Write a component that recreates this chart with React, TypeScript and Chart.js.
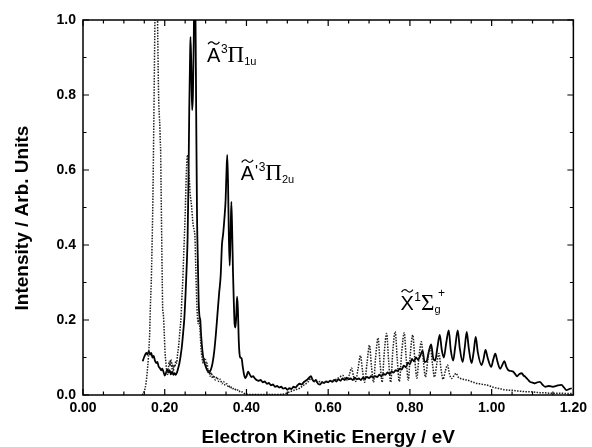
import React, { useEffect, useRef } from "react";
import { Chart, registerables } from "chart.js";

Chart.register(...registerables);

// ---- Solid spectrum (eV, intensity) ----
const solidX = [
  0.146, 0.150, 0.155, 0.158, 0.161, 0.164, 0.167, 0.170, 0.173, 0.176, 0.179, 0.182, 0.185, 0.188, 0.191, 0.194, 0.197,
  0.200, 0.203, 0.206, 0.209, 0.212, 0.215, 0.218, 0.221, 0.224, 0.227, 0.230, 0.233, 0.236, 0.239, 0.242, 0.245, 0.248,
  0.251, 0.254, 0.256, 0.258, 0.260, 0.262, 0.263, 0.265, 0.267, 0.269, 0.271, 0.273, 0.275, 0.277, 0.279, 0.281, 0.283,
  0.285, 0.287, 0.289, 0.292, 0.295, 0.299, 0.303, 0.306, 0.309, 0.313, 0.317, 0.321, 0.325, 0.329, 0.333, 0.337, 0.340,
  0.343, 0.346, 0.349, 0.351, 0.353, 0.355, 0.357, 0.359, 0.361, 0.363, 0.365, 0.367, 0.369, 0.371, 0.373, 0.375, 0.377,
  0.379, 0.381, 0.383, 0.385, 0.388, 0.391, 0.394, 0.397, 0.400, 0.404, 0.408, 0.412, 0.416, 0.420, 0.425, 0.430, 0.435,
  0.440, 0.445, 0.450, 0.455, 0.460, 0.465, 0.470, 0.475, 0.480, 0.485, 0.490, 0.495, 0.500, 0.505, 0.510, 0.515, 0.520,
  0.525, 0.530, 0.535, 0.540, 0.545, 0.550, 0.555, 0.558, 0.562, 0.566, 0.570, 0.575, 0.580, 0.585, 0.590, 0.595, 0.600,
  0.605, 0.610, 0.615, 0.620, 0.625, 0.630, 0.635, 0.640, 0.645, 0.650, 0.655, 0.660, 0.665, 0.670, 0.675, 0.680, 0.685,
  0.690, 0.695, 0.700, 0.705, 0.710, 0.715, 0.720, 0.725, 0.730, 0.735, 0.740, 0.745, 0.750, 0.755, 0.760, 0.765, 0.770,
  0.775, 0.780, 0.785, 0.790, 0.795, 0.800, 0.805, 0.810, 0.815, 0.820, 0.825, 0.831, 0.836, 0.841, 0.846, 0.852, 0.857,
  0.862, 0.867, 0.873, 0.878, 0.883, 0.889, 0.895, 0.900, 0.906, 0.911, 0.917, 0.922, 0.929, 0.934, 0.939, 0.944, 0.951,
  0.956, 0.961, 0.966, 0.975, 0.980, 0.985, 0.990, 0.999, 1.004, 1.009, 1.014, 1.021, 1.026, 1.031, 1.036, 1.041, 1.047,
  1.053, 1.058, 1.062, 1.068, 1.074, 1.078, 1.082, 1.088, 1.094, 1.100, 1.106, 1.112, 1.118, 1.124, 1.131, 1.140, 1.150,
  1.160, 1.171, 1.177, 1.183, 1.190, 1.196,
];
const solidY = [
  0.090, 0.102, 0.112, 0.108, 0.116, 0.108, 0.112, 0.100, 0.104, 0.092, 0.085, 0.088, 0.076, 0.072, 0.066, 0.070, 0.062,
  0.052, 0.058, 0.068, 0.060, 0.066, 0.055, 0.062, 0.054, 0.058, 0.054, 0.060, 0.072, 0.085, 0.105, 0.130, 0.165, 0.205,
  0.270, 0.350, 0.420, 0.560, 0.760, 0.900, 0.955, 0.880, 0.760, 0.800, 0.940, 1.150, 1.050, 0.750, 0.480, 0.360, 0.250,
  0.210, 0.200, 0.160, 0.120, 0.095, 0.080, 0.068, 0.062, 0.060, 0.068, 0.085, 0.115, 0.160, 0.215, 0.270, 0.320, 0.400,
  0.430, 0.470, 0.520, 0.590, 0.640, 0.560, 0.420, 0.345, 0.420, 0.515, 0.440, 0.330, 0.250, 0.190, 0.180, 0.210, 0.262,
  0.230, 0.150, 0.110, 0.100, 0.098, 0.075, 0.055, 0.045, 0.050, 0.062, 0.055, 0.048, 0.050, 0.045, 0.040, 0.038, 0.040,
  0.034, 0.036, 0.030, 0.032, 0.026, 0.028, 0.022, 0.024, 0.020, 0.022, 0.017, 0.019, 0.014, 0.018, 0.016, 0.022, 0.020,
  0.026, 0.030, 0.028, 0.034, 0.038, 0.042, 0.048, 0.050, 0.040, 0.036, 0.040, 0.030, 0.028, 0.034, 0.032, 0.036, 0.034,
  0.038, 0.035, 0.040, 0.036, 0.042, 0.038, 0.044, 0.040, 0.046, 0.042, 0.044, 0.040, 0.046, 0.042, 0.044, 0.040, 0.046,
  0.044, 0.048, 0.045, 0.050, 0.047, 0.050, 0.048, 0.054, 0.050, 0.056, 0.054, 0.060, 0.056, 0.062, 0.060, 0.066, 0.064,
  0.070, 0.068, 0.078, 0.074, 0.086, 0.082, 0.096, 0.090, 0.100, 0.094, 0.104, 0.118, 0.088, 0.090, 0.115, 0.135, 0.098,
  0.092, 0.125, 0.160, 0.120, 0.100, 0.140, 0.172, 0.120, 0.092, 0.130, 0.172, 0.125, 0.088, 0.125, 0.168, 0.125, 0.085,
  0.115, 0.155, 0.115, 0.080, 0.095, 0.120, 0.100, 0.075, 0.095, 0.110, 0.090, 0.070, 0.080, 0.090, 0.075, 0.066, 0.064,
  0.062, 0.055, 0.050, 0.056, 0.058, 0.052, 0.049, 0.042, 0.035, 0.033, 0.031, 0.034, 0.035, 0.028, 0.022, 0.024, 0.022,
  0.025, 0.027, 0.020, 0.013, 0.016, 0.018,
];

// ---- Dotted spectrum (eV, intensity) ----
const dottedX = [
  0.145, 0.150, 0.154, 0.157, 0.160, 0.163, 0.165, 0.167, 0.169, 0.171, 0.173, 0.175, 0.177, 0.179, 0.181, 0.183, 0.185,
  0.187, 0.188, 0.189, 0.190, 0.191, 0.192, 0.193, 0.194, 0.195, 0.196, 0.197, 0.199, 0.201, 0.203, 0.205, 0.207, 0.209,
  0.211, 0.213, 0.215, 0.217, 0.219, 0.221, 0.223, 0.225, 0.227, 0.229, 0.231, 0.234, 0.237, 0.240, 0.242, 0.244, 0.246,
  0.248, 0.250, 0.252, 0.254, 0.256, 0.258, 0.260, 0.262, 0.264, 0.266, 0.268, 0.270, 0.272, 0.274, 0.276, 0.278, 0.280,
  0.282, 0.284, 0.286, 0.288, 0.290, 0.292, 0.294, 0.296, 0.298, 0.300, 0.302, 0.304, 0.306, 0.308, 0.311, 0.314, 0.317,
  0.320, 0.324, 0.328, 0.332, 0.336, 0.340, 0.344, 0.348, 0.352, 0.356, 0.360, 0.365, 0.370, 0.375, 0.380, 0.385, 0.390,
  0.395, 0.400, 0.450, 0.490, 0.500, 0.510, 0.520, 0.530, 0.540, 0.550, 0.558, 0.565, 0.572, 0.580, 0.590, 0.600, 0.610,
  0.620, 0.628, 0.636, 0.641, 0.647, 0.652, 0.657, 0.662, 0.667, 0.673, 0.679, 0.684, 0.689, 0.695, 0.701, 0.706, 0.711,
  0.716, 0.722, 0.727, 0.732, 0.737, 0.743, 0.748, 0.753, 0.758, 0.764, 0.769, 0.774, 0.780, 0.786, 0.791, 0.796, 0.801,
  0.807, 0.812, 0.817, 0.822, 0.828, 0.833, 0.838, 0.844, 0.850, 0.855, 0.860, 0.866, 0.871, 0.876, 0.881, 0.887, 0.892,
  0.897, 0.902, 0.908, 0.913, 0.918, 0.924, 0.930, 0.940, 0.950, 0.960, 0.970, 0.980, 0.990, 1.000, 1.010, 1.020, 1.030,
  1.040, 1.050, 1.060, 1.070, 1.080, 1.090, 1.100, 1.110, 1.120, 1.130, 1.140, 1.150, 1.160, 1.170, 1.180, 1.190, 1.198,
];
const dottedY = [
  0.000, 0.010, 0.030, 0.060, 0.100, 0.160, 0.240, 0.300, 0.400, 0.520, 0.700, 0.900, 1.100, 1.300, 1.150, 0.950, 0.800,
  0.740, 0.720, 0.680, 0.650, 0.560, 0.470, 0.380, 0.300, 0.230, 0.220, 0.210, 0.160, 0.110, 0.085, 0.062, 0.055, 0.070,
  0.090, 0.078, 0.095, 0.070, 0.085, 0.062, 0.080, 0.075, 0.090, 0.085, 0.105, 0.130, 0.170, 0.210, 0.260, 0.300, 0.360,
  0.420, 0.480, 0.560, 0.620, 0.640, 0.610, 0.580, 0.540, 0.520, 0.500, 0.470, 0.450, 0.440, 0.420, 0.340, 0.260, 0.210,
  0.190, 0.205, 0.180, 0.140, 0.110, 0.095, 0.085, 0.100, 0.092, 0.095, 0.075, 0.085, 0.060, 0.068, 0.050, 0.060, 0.045,
  0.052, 0.040, 0.048, 0.036, 0.042, 0.030, 0.036, 0.026, 0.030, 0.020, 0.024, 0.016, 0.018, 0.012, 0.014, 0.008, 0.008,
  0.004, 0.002, 0.001, 0.002, 0.006, 0.010, 0.014, 0.018, 0.026, 0.034, 0.044, 0.038, 0.034, 0.036, 0.034, 0.036, 0.038,
  0.042, 0.048, 0.052, 0.045, 0.040, 0.055, 0.072, 0.050, 0.036, 0.070, 0.105, 0.065, 0.034, 0.085, 0.133, 0.075, 0.034,
  0.100, 0.152, 0.085, 0.034, 0.110, 0.164, 0.090, 0.034, 0.115, 0.169, 0.095, 0.036, 0.115, 0.166, 0.095, 0.040, 0.110,
  0.160, 0.095, 0.045, 0.100, 0.142, 0.090, 0.048, 0.095, 0.128, 0.085, 0.048, 0.085, 0.111, 0.070, 0.042, 0.065, 0.080,
  0.055, 0.044, 0.052, 0.058, 0.048, 0.044, 0.042, 0.040, 0.036, 0.032, 0.030, 0.028, 0.026, 0.022, 0.019, 0.017, 0.014,
  0.013, 0.013, 0.011, 0.010, 0.009, 0.009, 0.008, 0.007, 0.006, 0.006, 0.005, 0.005, 0.005, 0.005, 0.004, 0.004, 0.004,
];

// ---- Axes ----
const xTickValues = [0, 0.2, 0.4, 0.6, 0.8, 1.0, 1.2];
const xTickLabels = ["0.00", "0.20", "0.40", "0.60", "0.80", "1.00", "1.20"];
const xMinorTicks = [0.05, 0.1, 0.15, 0.25, 0.3, 0.35, 0.45, 0.5, 0.55, 0.65, 0.7, 0.75, 0.85, 0.9, 0.95, 1.05, 1.1, 1.15];
const yTickValues = [0, 0.2, 0.4, 0.6, 0.8, 1.0];
const yTickLabels = ["0.0", "0.2", "0.4", "0.6", "0.8", "1.0"];
const yMinorTicks = [0.1, 0.3, 0.5, 0.7, 0.9];

// ---- State labels (anchor in data coords: left edge of letter, baseline) ----
const labelX = [0.3036, 0.386, 0.777];
const labelY = [0.888, 0.573, 0.227];
const labelBase = ["A", "A", "X"];
const labelPrime = ["", "'", ""];
const labelSup = ["3", "3", "1"];
const labelGreek = ["\u03A0", "\u03A0", "\u03A3"];
const labelSub = ["1u", "2u", "g"];
const labelSupAfter = ["", "", "+"];

const TICK_FONT = { family: "'Liberation Sans', Arial, sans-serif", size: 14, weight: "bold" as const };
const TITLE_FONT = { family: "'Liberation Sans', Arial, sans-serif", size: 19, weight: "bold" as const };

const decorPlugin = {
  id: "decor",
  afterDatasetsDraw(chart: any) {
    const { ctx, chartArea } = chart;
    const { left, right, top, bottom } = chartArea;
    const xs = chart.scales.x;
    const ys = chart.scales.y;
    ctx.save();
    ctx.strokeStyle = "#000";
    ctx.lineWidth = 1.5;
    ctx.strokeRect(left, top, right - left, bottom - top);
    ctx.lineWidth = 1.2;
    const major = 6;
    const minor = 3.5;
    ctx.beginPath();
    const xt = (v: number, len: number) => {
      const p = xs.getPixelForValue(v);
      ctx.moveTo(p, bottom);
      ctx.lineTo(p, bottom - len);
      ctx.moveTo(p, top);
      ctx.lineTo(p, top + len);
    };
    const yt = (v: number, len: number) => {
      const p = ys.getPixelForValue(v);
      ctx.moveTo(left, p);
      ctx.lineTo(left + len, p);
      ctx.moveTo(right, p);
      ctx.lineTo(right - len, p);
    };
    xTickValues.forEach((v) => xt(v, major));
    xMinorTicks.forEach((v) => xt(v, minor));
    yTickValues.forEach((v) => yt(v, major));
    yMinorTicks.forEach((v) => yt(v, minor));
    ctx.stroke();

    // state labels
    ctx.fillStyle = "#000";
    ctx.textBaseline = "alphabetic";
    ctx.textAlign = "left";
    for (let i = 0; i < labelX.length; i++) {
      let x = xs.getPixelForValue(labelX[i]);
      const y = ys.getPixelForValue(labelY[i]);
      ctx.font = "20px 'Liberation Sans', Arial, sans-serif";
      ctx.fillText(labelBase[i], x, y);
      const w = ctx.measureText(labelBase[i]).width;
      // tilde over the letter
      const ty = y - 19;
      ctx.beginPath();
      ctx.lineWidth = 1.2;
      ctx.moveTo(x + 1, ty + 1.2);
      ctx.quadraticCurveTo(x + w * 0.27, ty - 2.8, x + w * 0.5, ty);
      ctx.quadraticCurveTo(x + w * 0.73, ty + 2.8, x + w - 1, ty - 1.2);
      ctx.stroke();
      x += w;
      if (labelPrime[i]) {
        ctx.font = "16px 'Liberation Sans', Arial, sans-serif";
        ctx.fillText(labelPrime[i], x + 1, y - 3);
        x += ctx.measureText(labelPrime[i]).width + 1;
      }
      ctx.font = "12px 'Liberation Sans', Arial, sans-serif";
      ctx.fillText(labelSup[i], x + 0.5, y - 9);
      x += ctx.measureText(labelSup[i]).width + 0.5;
      ctx.font = "23px 'Liberation Serif', 'Times New Roman', serif";
      ctx.fillText(labelGreek[i], x, y);
      x += ctx.measureText(labelGreek[i]).width;
      ctx.font = "11px 'Liberation Sans', Arial, sans-serif";
      ctx.fillText(labelSub[i], x, y + 3);
      const sw = ctx.measureText(labelSub[i]).width;
      if (labelSupAfter[i]) {
        ctx.font = "12px 'Liberation Sans', Arial, sans-serif";
        ctx.fillText(labelSupAfter[i], x + sw * 0.6, y - 13);
      }
    }
    ctx.restore();
  },
};

export default function App() {
  const canvasRef = useRef<HTMLCanvasElement | null>(null);

  useEffect(() => {
    const canvas = canvasRef.current;
    if (!canvas) return;
    const solidData = solidX.map((x, i) => ({ x, y: solidY[i] }));
    const dottedData = dottedX.map((x, i) => ({ x, y: dottedY[i] }));
    const chart = new Chart(canvas, {
      type: "line",
      data: {
        datasets: [
          {
            label: "dotted",
            data: dottedData,
            borderColor: "#1e1e1e",
            borderWidth: 1.5,
            borderDash: [1.5, 1.3],
            pointRadius: 0,
            fill: false,
            cubicInterpolationMode: "monotone",
          },
          {
            label: "solid",
            data: solidData,
            borderColor: "#000",
            borderWidth: 1.8,
            pointRadius: 0,
            fill: false,
            cubicInterpolationMode: "monotone",
          },
        ],
      },
      options: {
        responsive: false,
        animation: false,
        events: [],
        layout: { padding: { left: 0, right: 15, top: 20, bottom: 0 } },
        plugins: { legend: { display: false }, tooltip: { enabled: false }, title: { display: false } },
        scales: {
          x: {
            type: "linear",
            min: 0,
            max: 1.2,
            afterBuildTicks: (s: any) => {
              s.ticks = xTickValues.map((v) => ({ value: v }));
            },
            afterFit: (s: any) => {
              s.height = 52;
            },
            ticks: {
              callback: (_v: any, i: number) => xTickLabels[i],
              font: TICK_FONT,
              color: "#000",
              padding: 5,
              maxRotation: 0,
              autoSkip: false,
            },
            grid: { display: false, drawTicks: false },
            border: { display: false },
            title: {
              display: true,
              text: "Electron Kinetic Energy / eV",
              font: TITLE_FONT,
              color: "#000",
              padding: { top: 0, bottom: -2 },
            },
          },
          y: {
            type: "linear",
            min: 0,
            max: 1.0,
            afterBuildTicks: (s: any) => {
              s.ticks = yTickValues.map((v) => ({ value: v }));
            },
            afterFit: (s: any) => {
              s.width = 83;
            },
            ticks: {
              callback: (_v: any, i: number) => yTickLabels[i],
              font: TICK_FONT,
              color: "#000",
              padding: 7,
              autoSkip: false,
            },
            grid: { display: false, drawTicks: false },
            border: { display: false },
            title: {
              display: true,
              text: "Intensity / Arb. Units    ",
              font: TITLE_FONT,
              color: "#000",
              padding: { top: 11, bottom: 0 },
            },
          },
        },
      },
      plugins: [decorPlugin],
    } as any);
    return () => chart.destroy();
  }, []);

  return (
    <div style={{ position: "absolute", left: 0, top: 0, width: 592, height: 447, background: "#fff" }}>
      <canvas ref={canvasRef} width={592} height={447} style={{ display: "block" }} />
    </div>
  );
}
